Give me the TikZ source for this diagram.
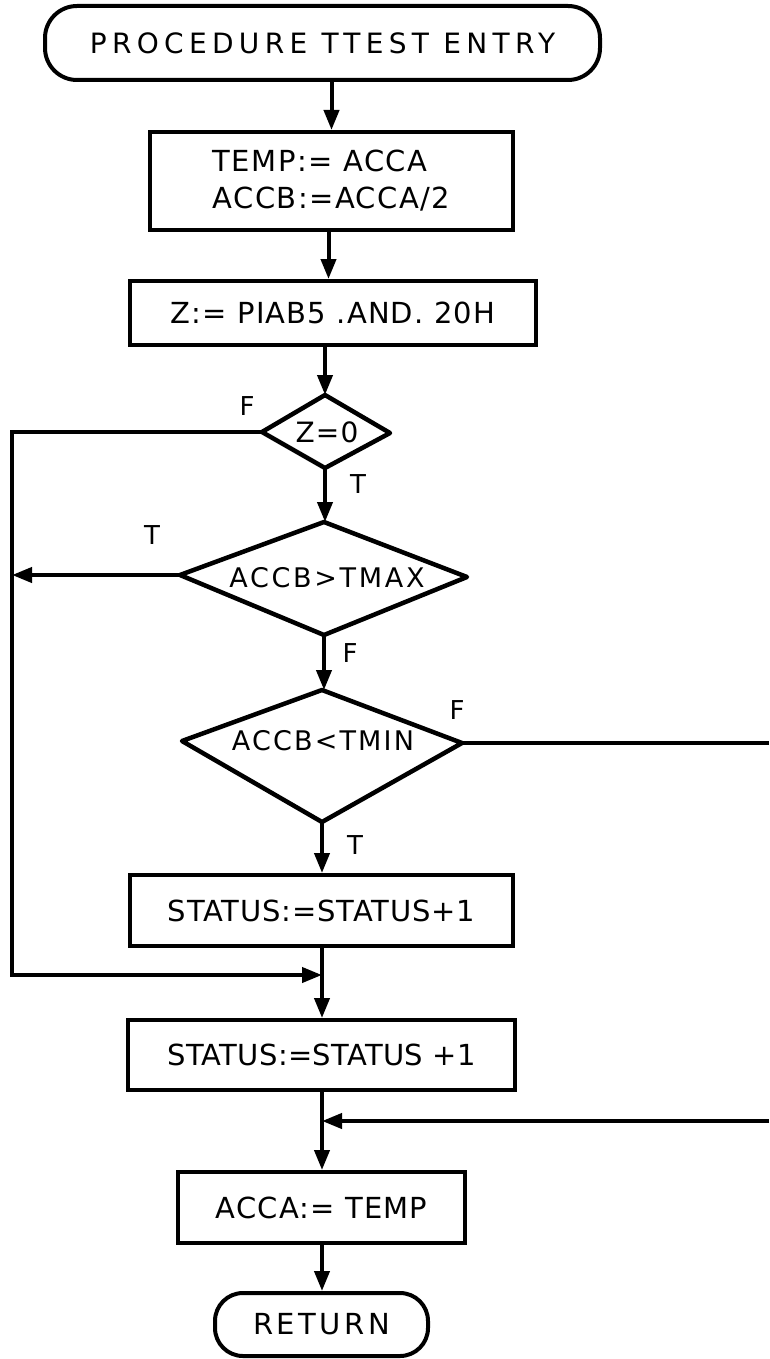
\documentclass[tikz,border=0pt]{standalone}
\usepackage{fontspec}
\setmainfont{DejaVu Sans}
\usetikzlibrary{arrows.meta,calc}
\begin{document}
\begin{tikzpicture}[x=1pt,y=-1pt,
  line width=4pt,
  arr/.style={-{Triangle[length=20pt,width=15pt]}},
  fnt/.style 2 args={font=\fontsize{#1}{37}\selectfont\addfontfeature{LetterSpace=#2}},
  box/.style={draw,line width=4pt,inner sep=0pt,align=left},
  term/.style={box,rounded corners=32pt},
  dia/.style={draw,line width=4.5pt,line join=round},
  dtxt/.style={inner sep=0pt},
  lbl/.style={inner sep=0pt,font=\fontsize{26}{30}\selectfont}
]
\useasboundingbox (0,0) rectangle (769,1359);

% process boxes
\node[term,minimum width=555pt,minimum height=74pt,fnt={28}{19}] (start) at (322.5,43) {PROCEDURE TTEST ENTRY};
\node[box,minimum width=363pt,minimum height=98pt,fnt={29}{5}] (b1) at (331.5,181) {TEMP:= ACCA\\ACCB:=ACCA/2};
\node[box,minimum width=406pt,minimum height=64pt,fnt={29}{4}] (b2) at (333,313) {Z:= PIAB5 .AND. 20H};
\node[box,minimum width=383pt,minimum height=71pt,fnt={29}{3}] (b3) at (321.5,910.5) {STATUS:=STATUS+1};
\node[box,minimum width=387pt,minimum height=70pt,fnt={29}{1}] (b4) at (321.5,1055) {STATUS:=STATUS +1};
\node[box,minimum width=287pt,minimum height=71pt,fnt={29}{4}] (b5) at (321.5,1207.5) {ACCA:= TEMP};
\node[term,minimum width=213pt,minimum height=63pt,rounded corners=28pt,fnt={29}{12}] (ret) at (321.5,1324.5) {RETURN};

% diamonds
\coordinate (d1t) at (325,395); \coordinate (d1r) at (390,433);
\coordinate (d1b) at (325,468); \coordinate (d1l) at (262,432);
\draw[dia] (d1t) -- (d1r) -- (d1b) -- (d1l) -- cycle;
\node[dtxt,fnt={28}{4}] (d1txt) at (327,432) {Z=0};

\coordinate (d2t) at (324,522); \coordinate (d2r) at (467,577);
\coordinate (d2b) at (324,635); \coordinate (d2l) at (180,575);
\draw[dia] (d2t) -- (d2r) -- (d2b) -- (d2l) -- cycle;
\node[dtxt,fnt={27}{10}] (d2txt) at (327,578) {ACCB>TMAX};

\coordinate (d3t) at (322,690); \coordinate (d3r) at (462,743);
\coordinate (d3b) at (322,822); \coordinate (d3l) at (182,741);
\draw[dia] (d3t) -- (d3r) -- (d3b) -- (d3l) -- cycle;
\node[dtxt,fnt={27}{8}] (d3txt) at (323,741) {ACCB<TMIN};

% auxiliary coordinates
\coordinate (lt) at (12,432);
\coordinate (lm) at (12,575);
\coordinate (lb) at (12,975);
\coordinate (j1) at (322,975);
\coordinate (rt) at (769,743);
\coordinate (rb) at (769,1121);
\coordinate (j2) at (322,1121);

% connectors
\draw[arr] (b1.north |- start.south) -- (b1.north);
\draw[arr] ([xshift=-3pt]b1.south) -- ([xshift=-3pt]b1.south |- b2.north);
\draw[arr] (d1t |- b2.south) -- (d1t);
\draw[arr] (d1b) -- (d1b |- d2t);
\draw[arr] (d2b) -- (d2b |- d3t);
\draw[arr] (d3b) -- (d3b |- b3.north);
\draw[line join=miter] (d1l) -- (lt) -- (lb);
\draw[arr] ([xshift=-2pt]lb) -- (j1);
\draw[arr] (d2l) -- (lm);
\draw[arr] (j1 |- b3.south) -- (j1 |- b4.north);
\draw (d3r) -- (rt);
\draw[arr] (rb) -- (j2);
\draw[arr] (j2 |- b4.south) -- (j2 |- b5.north);
\draw[arr] (j2 |- b5.south) -- (j2 |- ret.north);

% labels
\node[lbl] (lf1) at (247,406) {F};
\node[lbl] (lt1) at (358,484) {T};
\node[lbl] (lt2) at (152,535) {T};
\node[lbl] (lf2) at (350,653) {F};
\node[lbl] (lf3) at (457,710) {F};
\node[lbl] (lt3) at (355,845) {T};
\end{tikzpicture}
\end{document}
